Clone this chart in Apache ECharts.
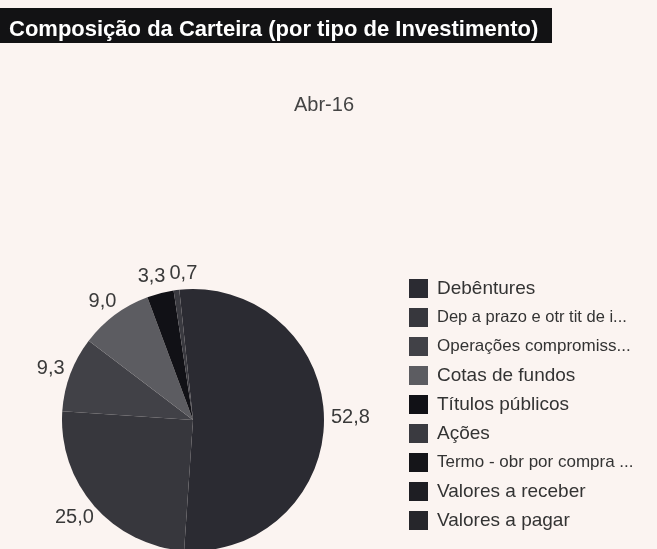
<!DOCTYPE html>
<html>
<head>
<meta charset="utf-8">
<script src="https://cdn.jsdelivr.net/npm/echarts@6/dist/echarts.min.js"></script>
<style>
  html, body { margin: 0; padding: 0; background: #fbf4f1; }
  #main { width: 657px; height: 549px; }
</style>
</head>
<body>
<div id="main"></div>
<script>
// dados (Abr-16)
var categorias = ['Debêntures', 'Dep a prazo e otr tit de i...', 'Operações compromiss...', 'Cotas de fundos',
    'Títulos públicos', 'Ações', 'Termo - obr por compra ...', 'Valores a receber', 'Valores a pagar'];
var valores = [52.8, 25.0, 9.3, 9.0, 3.3, 0.7, 0, 0, 0];
var cores = ['#2b2b32', '#37373d', '#414147', '#5c5c61', '#111116', '#3a3a40', '#151519', '#1e1e23', '#26262b'];
// fonte menor para os nomes truncados da legenda
var estiloLegenda = {
    'Dep a prazo e otr tit de i...': 's1',
    'Operações compromiss...': 's2',
    'Termo - obr por compra ...': 's3'
};

var cx = 193, cy = 420, raio = 131, folga = 7, inicio = -6; // inicio em graus, horario a partir do topo
var fonteRotulo = 20;

function fmt(v) {
    return v.toFixed(1).replace('.', ',');
}

// posicao dos rotulos: encostados por fora da fatia, na direcao do meio de cada fatia
var ctx = document.createElement('canvas').getContext('2d');
ctx.font = fonteRotulo + 'px "Liberation Sans"';
var total = valores.reduce(function (a, b) { return a + b; }, 0);
var posRotulos = [];
var acum = 0;
valores.forEach(function (v, i) {
    if (v <= 0) { posRotulos[i] = null; return; }
    var ang = (inicio + (acum + v / 2) / total * 360) * Math.PI / 180;
    acum += v;
    var ux = Math.sin(ang), uy = -Math.cos(ang);
    var w = ctx.measureText(fmt(v)).width, h = fonteRotulo;
    posRotulos[i] = {
        x: cx + (raio + folga) * ux + w / 2 * ux,
        y: cy + (raio + folga) * uy + h / 2 * uy,
        w: w, h: h
    };
});
// separa rotulos vizinhos que se sobrepoem
for (var k = 0; k < 3; k++) {
    for (var i = 0; i < posRotulos.length; i++) {
        for (var j = i + 1; j < posRotulos.length; j++) {
            var a = posRotulos[i], b = posRotulos[j];
            if (!a || !b) continue;
            var sx = (a.w + b.w) / 2 + 4 - Math.abs(a.x - b.x);
            var sy = (a.h + b.h) / 2 - Math.abs(a.y - b.y);
            if (sx > 0 && sy > 0) {
                var d = a.x <= b.x ? 1 : -1;
                a.x -= d * sx / 2 - 3;
                b.x += d * sx / 2 + 3;
            }
        }
    }
}

var chart = echarts.init(document.getElementById('main'));

chart.setOption({
    backgroundColor: '#fbf4f1',
    graphic: [{
        type: 'rect',
        shape: { x: 0, y: 8, width: 552, height: 35 },
        style: { fill: '#121214' }
    }],
    title: [{
        text: 'Composição da Carteira (por tipo de Investimento)',
        left: 4,
        top: 14,
        textStyle: { color: '#ffffff', fontSize: 22, fontWeight: 'bold', fontFamily: 'Liberation Sans' }
    }, {
        text: 'Abr-16',
        left: 319,
        textAlign: 'center',
        top: 90,
        textStyle: { color: '#444', fontSize: 20, fontWeight: 'normal', fontFamily: 'Liberation Sans' }
    }],
    legend: {
        orient: 'vertical',
        left: 404,
        top: 274,
        itemWidth: 19,
        itemHeight: 19,
        itemGap: 10,
        icon: 'rect',
        data: categorias,
        formatter: function (name) {
            return '{' + (estiloLegenda[name] || 'n') + '|' + name + '}';
        },
        textStyle: {
            color: '#333',
            fontFamily: 'Liberation Sans',
            rich: {
                n: { fontSize: 19, lineHeight: 19, color: '#333', padding: [0, 0, 0, 4] },
                s1: { fontSize: 16.5, lineHeight: 19, color: '#333', padding: [0, 0, 0, 4] },
                s2: { fontSize: 17, lineHeight: 19, color: '#333', padding: [0, 0, 0, 4] },
                s3: { fontSize: 17, lineHeight: 19, color: '#333', padding: [0, 0, 0, 4] }
            }
        }
    },
    series: [{
        type: 'pie',
        center: [cx, cy],
        radius: raio,
        startAngle: 90 - inicio,
        clockwise: true,
        silent: true,
        avoidLabelOverlap: false,
        color: cores,
        data: categorias.map(function (c, i) {
            return { name: c, value: valores[i] };
        }),
        label: {
            show: true,
            position: 'outside',
            color: '#3a3a3a',
            fontSize: fonteRotulo,
            fontFamily: 'Liberation Sans',
            formatter: function (p) {
                return p.value > 0 ? fmt(p.value) : '';
            }
        },
        labelLine: { show: false },
        labelLayout: function (p) {
            var pos = posRotulos[p.dataIndex];
            if (!pos) return {};
            return { x: pos.x, y: pos.y, align: 'center', verticalAlign: 'middle' };
        }
    }]
});
</script>
</body>
</html>
